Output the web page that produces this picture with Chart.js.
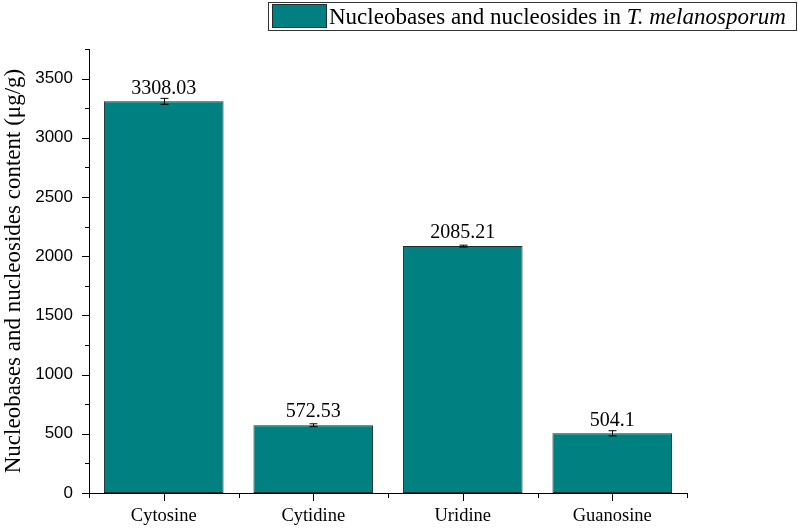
<!DOCTYPE html>
<html>
<head>
<meta charset="utf-8">
<script src="https://cdn.jsdelivr.net/npm/chart.js@4"></script>
<style>
  body { margin: 0; background: #fff; }
  #wrap { width: 798px; height: 528px; }
</style>
</head>
<body>
<div id="wrap"><canvas id="myChart" width="798" height="528"></canvas></div>
<script>
const categories = ['Cytosine', 'Cytidine', 'Uridine', 'Guanosine'];
const contents = [3308.03, 572.53, 2085.21, 504.1];
const errors = [25, 12, 8, 22];
const yTicks = [0, 500, 1000, 1500, 2000, 2500, 3000, 3500];
const yMax = 3750;

const teal = '#008080';
const serif = '"Liberation Serif", "Times New Roman", serif';
const sans = '"Liberation Sans", Arial, sans-serif';

// axis ticks (major + minor), drawn through the scales
const axisTicks = {
  id: 'axisTicks',
  afterDraw(chart) {
    const { ctx, chartArea, scales: { x, y } } = chart;
    ctx.save();
    ctx.strokeStyle = '#000';
    ctx.lineWidth = 1;
    ctx.beginPath();
    for (let v = 0; v <= yMax; v += 250) {
      const py = Math.round(y.getPixelForValue(v)) + 0.5;
      const len = v % 500 === 0 ? 7 : 4;
      ctx.moveTo(chartArea.left, py);
      ctx.lineTo(chartArea.left - len, py);
    }
    categories.forEach((c, i) => {
      const px = Math.round(x.getPixelForValue(i)) + 0.5;
      ctx.moveTo(px, chartArea.bottom);
      ctx.lineTo(px, chartArea.bottom + 8);
    });
    for (let i = 0; i <= categories.length; i++) {
      const px = Math.round(x.getPixelForValue(i - 0.5)) + 0.5;
      ctx.moveTo(px, chartArea.bottom);
      ctx.lineTo(px, chartArea.bottom + 5);
    }
    ctx.stroke();
    ctx.restore();
  }
};

// error bars and value labels
const barExtras = {
  id: 'barExtras',
  afterDatasetsDraw(chart) {
    const { ctx, scales: { y } } = chart;
    const meta = chart.getDatasetMeta(0);
    ctx.save();
    ctx.strokeStyle = '#000';
    ctx.lineWidth = 1;
    meta.data.forEach((bar, i) => {
      const px = Math.round(bar.x) + 0.5;
      const top = y.getPixelForValue(contents[i] + errors[i]);
      const bot = y.getPixelForValue(contents[i] - errors[i]);
      ctx.beginPath();
      ctx.moveTo(px, top); ctx.lineTo(px, bot);
      ctx.moveTo(px - 4, top); ctx.lineTo(px + 4, top);
      ctx.moveTo(px - 4, bot); ctx.lineTo(px + 4, bot);
      ctx.stroke();
    });
    ctx.fillStyle = '#000';
    ctx.font = '20px ' + serif;
    ctx.textAlign = 'center';
    ctx.textBaseline = 'bottom';
    meta.data.forEach((bar, i) => {
      ctx.fillText(String(contents[i]), bar.x, bar.y - 3);
    });
    ctx.restore();
  }
};

// legend box with italic species name
const boxLegend = {
  id: 'boxLegend',
  afterDraw(chart) {
    const ctx = chart.ctx;
    ctx.save();
    ctx.fillStyle = '#fff';
    ctx.fillRect(268, 2, 529, 28);
    ctx.strokeStyle = '#333';
    ctx.lineWidth = 1;
    ctx.strokeRect(268.5, 2.5, 528, 28);
    ctx.fillStyle = teal;
    ctx.fillRect(272, 4, 55, 24);
    ctx.strokeStyle = '#1e2e2e';
    ctx.strokeRect(272.5, 4.5, 54, 23);
    ctx.fillStyle = '#000';
    ctx.textBaseline = 'alphabetic';
    ctx.textAlign = 'left';
    const plain = 'Nucleobases and nucleosides in ';
    ctx.font = '23px ' + serif;
    ctx.fillText(plain, 329, 24);
    const w = ctx.measureText(plain).width;
    ctx.font = 'italic 23px ' + serif;
    ctx.fillText('T. melanosporum', 329 + w, 24);
    ctx.restore();
  }
};

const data = {
  labels: categories,
  datasets: [{
    label: 'Nucleobases and nucleosides in T. melanosporum',
    data: contents,
    backgroundColor: teal,
    borderColor: '#1e2e2e',
    borderWidth: 1,
    borderSkipped: false,
    barPercentage: 0.8,
    categoryPercentage: 1.0
  }]
};

const config = {
  type: 'bar',
  data: data,
  options: {
    responsive: false,
    animation: false,
    layout: { padding: { top: 49, right: 111, left: 0, bottom: 0 } },
    plugins: {
      legend: { display: false },
      tooltip: { enabled: false }
    },
    scales: {
      x: {
        grid: { display: false, drawTicks: false },
        border: { display: true, color: '#000', width: 1 },
        ticks: { color: '#000', padding: 12, font: { family: serif, size: 18.5 } },
        afterFit(scale) { scale.height = 35; }
      },
      y: {
        min: 0,
        max: yMax,
        grid: { display: false, drawTicks: false },
        border: { display: true, color: '#000', width: 1 },
        afterBuildTicks(scale) { scale.ticks = yTicks.map(v => ({ value: v })); },
        ticks: {
          color: '#000',
          padding: 16,
          font: { family: sans, size: 17 },
          callback: v => String(v)
        },
        title: {
          display: true,
          text: 'Nucleobases and nucleosides content (μg/g)',
          color: '#000',
          font: { family: serif, size: 23 },
          padding: 0
        },
        afterFit(scale) { scale.width = 89; }
      }
    }
  },
  plugins: [axisTicks, barExtras, boxLegend]
};

new Chart(document.getElementById('myChart'), config);
</script>
</body>
</html>
